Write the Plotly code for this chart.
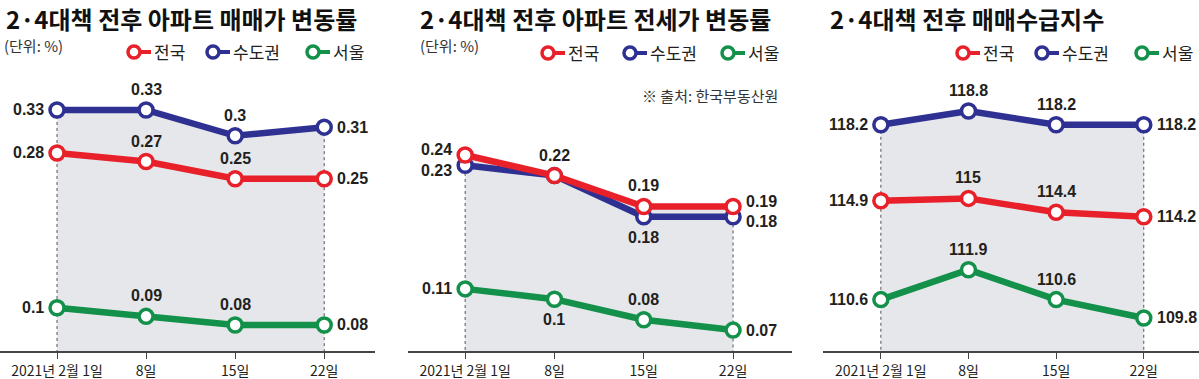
import plotly.graph_objects as go

# ---------------- data ----------------
categories = ["2021년 2월 1일", "8일", "15일", "22일"]
series_names = ["전국", "수도권", "서울"]
panel_titles = ["2·4대책 전후 아파트 매매가 변동률", "2·4대책 전후 아파트 전세가 변동률", "2·4대책 전후 매매수급지수"]

p1_national = [0.28, 0.27, 0.25, 0.25]
p1_capital = [0.33, 0.33, 0.30, 0.31]
p1_seoul = [0.10, 0.09, 0.08, 0.08]

p2_national = [0.24, 0.22, 0.19, 0.19]
p2_capital = [0.23, 0.22, 0.18, 0.18]
p2_seoul = [0.11, 0.10, 0.08, 0.07]

p3_national = [114.9, 115.0, 114.4, 114.2]
p3_capital = [118.2, 118.8, 118.2, 118.2]
p3_seoul = [110.6, 111.9, 110.6, 109.8]

unit_label = "(단위: %)"
source_label = "※ 출처: 한국부동산원"

# ---------------- style ----------------
W, H = 1199, 379
RED, BLUE, GREEN = "#e8202a", "#2e3192", "#13914a"
colors = [RED, BLUE, GREEN]
TXT = "#231f20"
NUM_FONT = "Liberation Sans, Arial, sans-serif"
KR_FONT = "Noto Sans CJK KR, sans-serif"
TICK_FONT = "Liberation Sans Narrow, Noto Sans CJK KR, sans-serif"

L, T, R, B = "L", "T", "R", "B"

panels = [
    dict(data=[p1_national, p1_capital, p1_seoul],
         pos=[[L, T, T, R], [L, T, T, R], [L, T, T, R]],
         nudge=[[0, 0, 0, 0], [0, 0, 0, 0], [0, 0, 0, 0]],
         hide=[[], [], []],
         xdom=[0 / W, 375 / W], xr=[-0.64, 3.57], yr=[0.0497, 0.3881]),
    dict(data=[p2_national, p2_capital, p2_seoul],
         pos=[[L, T, T, R], [L, T, B, R], [L, B, T, R]],
         nudge=[[5, 0, 0, 5], [-5, 0, 0, -5], [0, 0, 0, 0]],
         hide=[[], [1], []],
         xdom=[408 / W, 792 / W], xr=[-0.64, 3.66], yr=[0.0497, 0.3322]),
    dict(data=[p3_national, p3_capital, p3_seoul],
         pos=[[L, T, T, R], [L, T, T, R], [L, T, T, R]],
         nudge=[[0, 0, 0, 0], [0, 0, 0, 0], [0, 0, 0, 0]],
         hide=[[], [], []],
         xdom=[823 / W, 1.0], xr=[-0.66, 3.63], yr=[108.365, 121.017]),
]

ydom = [28 / H, 1 - 60 / H]
xs = list(range(len(categories)))

fig = go.Figure()
annotations = []
shapes = []

for i, p in enumerate(panels):
    xa = "x" if i == 0 else f"x{i+1}"
    ya = "y" if i == 0 else f"y{i+1}"
    env = [max(vals) for vals in zip(*p["data"])]
    # shaded area
    fig.add_trace(go.Scatter(x=xs, y=env, mode="lines", fill="tozeroy",
                             fillcolor="#e6e7ea", line=dict(width=0),
                             hoverinfo="skip", showlegend=False, xaxis=xa, yaxis=ya))
    # dotted guides
    ybot = p["yr"][0]
    fig.add_trace(go.Scatter(x=[xs[0], xs[0], None, xs[-1], xs[-1]],
                             y=[env[0], ybot, None, env[-1], ybot], mode="lines",
                             line=dict(color="#555555", width=1, dash="dot"),
                             hoverinfo="skip", showlegend=False, xaxis=xa, yaxis=ya))
    # series lines (draw capital, seoul, national so national is on top)
    for s in [1, 2, 0]:
        vals = p["data"][s]
        fig.add_trace(go.Scatter(
            x=xs, y=vals, mode="lines+markers", name=series_names[s],
            line=dict(color=colors[s], width=6.5),
            marker=dict(size=14, color="white", line=dict(color=colors[s], width=3.5)),
            cliponaxis=False, showlegend=False, xaxis=xa, yaxis=ya))
        for k, v in enumerate(vals):
            if k in p["hide"][s]:
                continue
            pos = p["pos"][s][k]
            nud = p["nudge"][s][k]
            a = dict(x=xs[k], y=v, xref=xa, yref=ya, text=f"{v:g}", showarrow=False,
                     font=dict(family=NUM_FONT, size=16, color=TXT, weight="bold"))
            if pos == L:
                a.update(xanchor="right", yanchor="middle", xshift=-11, yshift=nud)
            elif pos == R:
                a.update(xanchor="left", yanchor="middle", xshift=11, yshift=nud)
            elif pos == T:
                a.update(xanchor="center", yanchor="bottom", yshift=10 + nud)
            else:
                a.update(xanchor="center", yanchor="top", yshift=-10 + nud)
            annotations.append(a)

    fig.update_layout(**{
        ("xaxis" if i == 0 else f"xaxis{i+1}"): dict(
            domain=p["xdom"], range=p["xr"], anchor=ya,
            tickmode="array", tickvals=xs, ticktext=categories,
            showline=True, linecolor="#444444", linewidth=1.5,
            ticks="outside", ticklen=6, tickcolor="#444444", tickwidth=1,
            showgrid=False, zeroline=False,
            tickfont=dict(family=TICK_FONT, size=14, color=TXT)),
        ("yaxis" if i == 0 else f"yaxis{i+1}"): dict(
            domain=ydom, range=p["yr"], anchor=xa, visible=False,
            showgrid=False, zeroline=False),
    })

# ---------------- titles, unit, source, legends ----------------
def px(x):
    return x / W

def py(y):
    return 1 - y / H

title_x = [5, 419, 829]
for i, t in enumerate(panel_titles):
    annotations.append(dict(x=px(title_x[i]), y=py(0), xref="paper", yref="paper",
                            text=t, showarrow=False, xanchor="left", yanchor="top",
                            borderpad=0,
                            font=dict(family=KR_FONT, size=24, color="#111111", weight="bold")))
for ux in [3, 419]:
    annotations.append(dict(x=px(ux), y=py(45), xref="paper", yref="paper",
                            text=unit_label, showarrow=False, xanchor="left", yanchor="middle",
                            borderpad=0,
                            font=dict(family=KR_FONT, size=15, color="#333333")))
annotations.append(dict(x=px(780), y=py(95), xref="paper", yref="paper",
                        text=source_label, showarrow=False, xanchor="right", yanchor="middle",
                        font=dict(family=KR_FONT, size=15, color="#333333")))

legend_cx = [[134, 213, 313], [548, 630, 728], [963, 1042, 1142]]
legend_y = [52, 53, 53]
for i in range(3):
    cy = legend_y[i]
    for s in range(3):
        cx = legend_cx[i][s]
        r = 6
        shapes.append(dict(type="line", xref="paper", yref="paper",
                           x0=px(cx), x1=px(cx + 17), y0=py(cy), y1=py(cy),
                           line=dict(color=colors[s], width=4)))
        shapes.append(dict(type="circle", xref="paper", yref="paper",
                           x0=px(cx - r), x1=px(cx + r), y0=py(cy + r), y1=py(cy - r),
                           fillcolor="white", line=dict(color=colors[s], width=3.5)))
        annotations.append(dict(x=px(cx + 18), y=py(cy), xref="paper", yref="paper",
                                text=series_names[s], showarrow=False,
                                xanchor="left", yanchor="middle",
                                font=dict(family=KR_FONT, size=17, color=TXT)))

fig.update_layout(width=W, height=H, margin=dict(l=0, r=0, t=0, b=0),
                  paper_bgcolor="white", plot_bgcolor="rgba(0,0,0,0)",
                  showlegend=False, annotations=annotations, shapes=shapes)

fig.write_html("out.html", config={"displayModeBar": False},
               post_script="document.body.style.margin='0';")
